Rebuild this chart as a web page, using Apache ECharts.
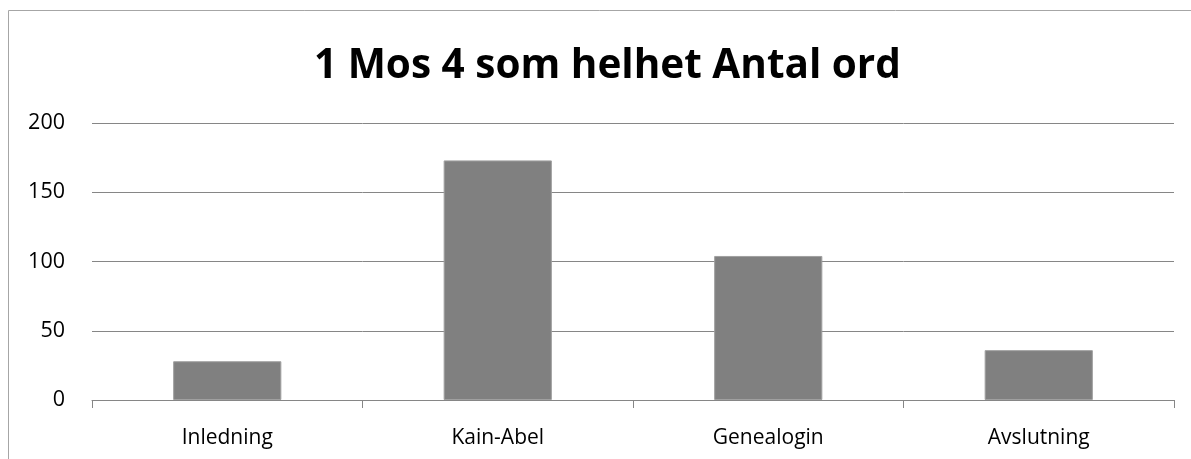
<!DOCTYPE html>
<html><head><meta charset="utf-8">
<script src="https://cdn.jsdelivr.net/npm/echarts@6/dist/echarts.min.js"></script>
<style>html,body{margin:0;padding:0;background:#fff}#c{width:1191px;height:459px}</style>
</head><body><div id="c"></div>
<script>
const titleText = "1 Mos 4 som helhet Antal ord";
const categories = ["Inledning", "Kain-Abel", "Genealogin", "Avslutning"];
const values = [28, 173, 104, 36];
const yTicks = [0, 50, 100, 150, 200];

const chart = echarts.init(document.getElementById('c'), null, {renderer: 'canvas'});
chart.setOption({
  animation: false,
  backgroundColor: '#fff',
  title: {
    text: titleText, left: 309, top: 41,
    textStyle: {fontFamily: 'Open Sans', fontWeight: 'bold', fontSize: 40.5, color: '#000'}
  },
  graphic: [
    {type: 'line', shape: {x1: 8.5, y1: 10.5, x2: 1191, y2: 10.5}, style: {stroke: '#a6a6a6', lineWidth: 1}},
    {type: 'line', shape: {x1: 8.5, y1: 10.5, x2: 8.5, y2: 459}, style: {stroke: '#a6a6a6', lineWidth: 1}}
  ],
  grid: {left: 92, right: 17, top: 123, bottom: 59, containLabel: false},
  xAxis: {
    type: 'category', data: categories,
    axisLine: {lineStyle: {color: '#868686', width: 1}},
    axisTick: {show: true, length: 8, alignWithLabel: false, lineStyle: {color: '#868686'}},
    axisLabel: {fontFamily: 'Open Sans', fontSize: 21, color: '#000', margin: 28}
  },
  yAxis: {
    type: 'value', min: yTicks[0], max: yTicks[yTicks.length - 1], interval: 50,
    axisLine: {show: false},
    axisTick: {show: false},
    axisLabel: {fontFamily: 'Open Sans', fontSize: 21.5, color: '#000', margin: 27},
    splitLine: {lineStyle: {color: '#868686', width: 1}}
  },
  series: [{
    type: 'bar', data: values, barCategoryGap: '60%',
    itemStyle: {color: '#808080', borderColor: '#a0a0a0', borderWidth: 1}
  }]
});
</script></body></html>
